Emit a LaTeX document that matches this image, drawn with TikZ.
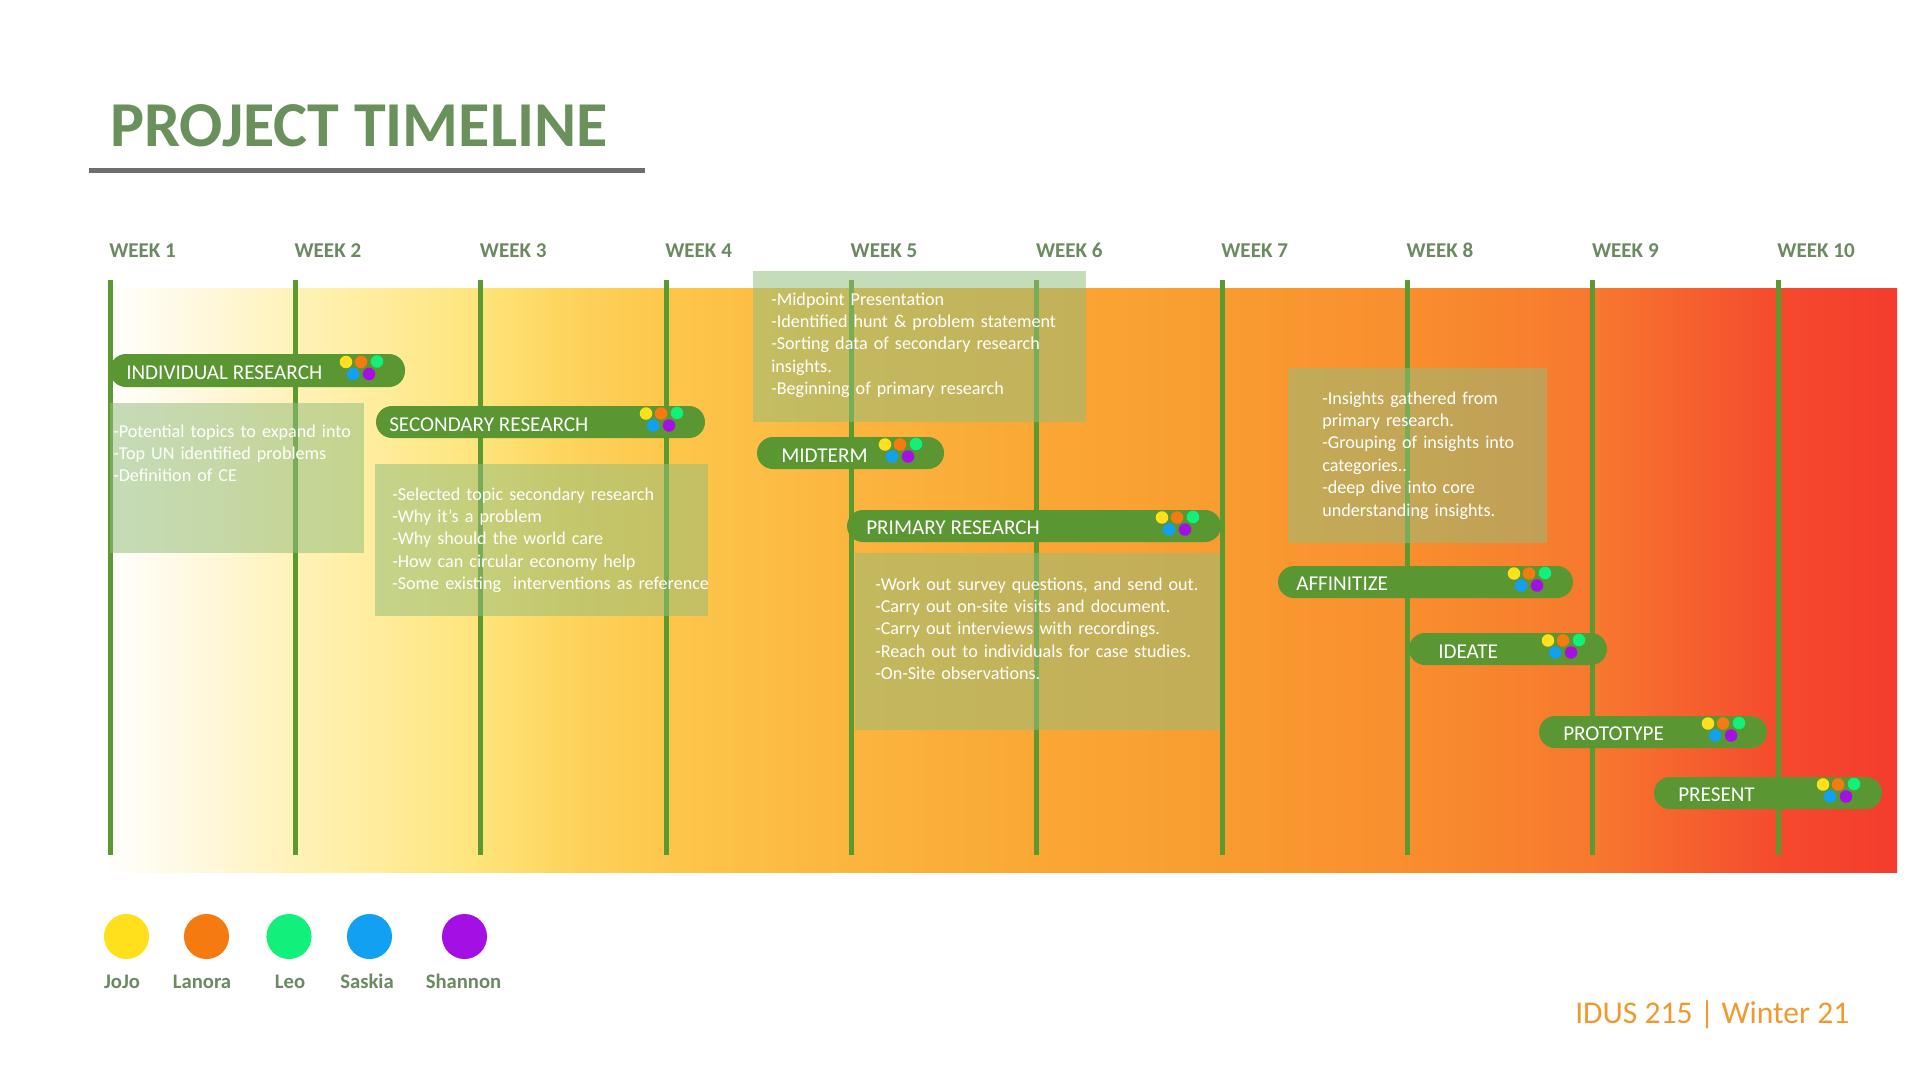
\documentclass[tikz,border=0pt]{standalone}
\usepackage{fontspec}
\setmainfont{Carlito}
\definecolor{pillgreen}{HTML}{5A9632}
\definecolor{linegreen}{HTML}{5B9A30}
\definecolor{boxgreen}{HTML}{93BD7B}
\definecolor{titlegreen}{HTML}{6A905C}
\definecolor{labelgreen}{HTML}{6B8A62}
\definecolor{rulegrey}{HTML}{6E6E6E}
\definecolor{footorange}{HTML}{EE9A2E}
\definecolor{cyel}{HTML}{FFE01A}
\definecolor{corg}{HTML}{F57A10}
\definecolor{cgrn}{HTML}{10F07A}
\definecolor{cblu}{HTML}{12A0F2}
\definecolor{cpur}{HTML}{A40FE4}
\newcommand\teamdots[2]{%
  \fill[cyel] ({#1-59},{#2-8.5}) circle (4.7pt);
  \fill[corg] ({#1-44},{#2-8.5}) circle (4.7pt);
  \fill[cgrn] ({#1-28},{#2-9}) circle (4.7pt);
  \fill[cblu] ({#1-52},{#2+3.5}) circle (4.7pt);
  \fill[cpur] ({#1-36},{#2+3.5}) circle (4.7pt);
}
\begin{document}
\begin{tikzpicture}[x=0.75pt,y=-0.75pt,
  vline/.style={draw=linegreen,line width=3.75pt},
  tbox/.style={fill=boxgreen,fill opacity=0.53},
  pill/.style={fill=pillgreen,rounded corners=12pt},
  pilltext/.style={anchor=base west,inner sep=0,text=white,font=\fontsize{15.85}{18}\selectfont},
  btext/.style={anchor=base west,inner sep=0,text=white,align=left,text width=330pt,font=\fontsize{13.6}{16.8}\selectfont},
  weeklabel/.style={anchor=base west,inner sep=0,text=labelgreen,font=\fontsize{15.8}{18}\selectfont\bfseries},
  leglabel/.style={anchor=base,inner sep=0,text=labelgreen,font=\fontsize{15.5}{18}\selectfont\bfseries}]
\useasboundingbox (0,0) rectangle (1920,1081);
\fill[white] (0,0) rectangle (1920,1081);
% gradient band
\begin{scope}
\clip (100,288) rectangle (1897,872);
\foreach \xa/\ca/\xb/\cb in {100/FFFFFF/200/FFF8DE, 200/FFF8DE/295/FFF2B8, 295/FFF2B8/400/FFEB95, 400/FFEB95/480/FEE47A, 480/FEE47A/560/FDD55E, 560/FDD55E/665/FDC74B, 665/FDC74B/851/FBB53E, 851/FBB53E/1037/FAA735, 1037/FAA735/1222/F99C30, 1222/F99C30/1408/F98E2E, 1408/F98E2E/1594/F7782E, 1594/F7782E/1700/F65E2E, 1700/F65E2E/1778/F54A2E, 1778/F54A2E/1897/F43C2C}{
  \definecolor{ca}{HTML}{\ca}\definecolor{cb}{HTML}{\cb}
  \shade[left color=ca,right color=cb] (\xa,288) rectangle ({\xb+1},872);
}
\end{scope}
% title
\node[anchor=base west,inner sep=0,text=titlegreen,font=\fontsize{48}{58}\selectfont\bfseries] (title) at (110,146) {PROJECT TIMELINE};
\coordinate (ruleL) at (89,170);
\coordinate (ruleR) at (645,170);
\draw[rulegrey,line width=3.75pt] (ruleL) -- (ruleR);
% week lines and labels
\foreach \i/\n in {0/1,1/2,2/3,3/4,4/5,5/6,6/7,7/8,8/9,9/10}{
  \coordinate (top\n) at ({110+185.35*\i},280);
  \coordinate (bot\n) at ({110+185.35*\i},855);
  \draw[vline] (top\n) -- (bot\n);
  \node[weeklabel] (week\n) at ({109+185.35*\i},257) {WEEK \n};
}
% text boxes
\fill[tbox] (110,403) rectangle (364,553);
\fill[tbox] (375,464) rectangle (708,616);
\fill[tbox] (753,271) rectangle (1086,422);
\fill[tbox] (855,553) rectangle (1220,730);
\fill[tbox] (1288,368) rectangle (1547,543);
% pills
\fill[pill] (110,354) rectangle (405,387);
\fill[pill] (376,406) rectangle (705,438);
\fill[pill] (757,437) rectangle (944,469);
\fill[pill] (847,510) rectangle (1221,542);
\fill[pill] (1278,566) rectangle (1573,598);
\fill[pill] (1409,633) rectangle (1607,665);
\fill[pill] (1539,716) rectangle (1767,748);
\fill[pill] (1654,777) rectangle (1882,809);
% pill labels
\node[pilltext] (p1) at (126,379.5) {INDIVIDUAL RESEARCH};
\node[pilltext] (p2) at (389,431) {SECONDARY RESEARCH};
\node[pilltext] (p3) at (781,462) {MIDTERM};
\node[pilltext] (p4) at (866,534) {PRIMARY RESEARCH};
\node[pilltext] (p5) at (1296,590) {AFFINITIZE};
\node[pilltext] (p6) at (1438,658) {IDEATE};
\node[pilltext] (p7) at (1563,740) {PROTOTYPE};
\node[pilltext] (p8) at (1678,801) {PRESENT};
% team dots
\teamdots{405}{370.5}
\teamdots{705}{422}
\teamdots{944}{453}
\teamdots{1221}{526}
\teamdots{1573}{582}
\teamdots{1607}{649}
\teamdots{1767}{732}
\teamdots{1882}{793}
% box texts
\node[btext] (b1) at (113,437) {-Potential topics to expand into\\-Top UN identified problems\\-Definition of CE};
\node[btext] (b2) at (392,500) {-Selected topic secondary research\\-Why it’s a problem\\-Why should the world care\\-How can circular economy help\\-Some existing \ interventions as reference};
\node[btext] (b3) at (771,305) {-Midpoint Presentation\\-Identified hunt \& problem statement\\-Sorting data of secondary research\\insights.\\-Beginning of primary research};
\node[btext] (b4) at (875,590) {-Work out survey questions, and send out.\\-Carry out on-site visits and document.\\-Carry out interviews with recordings.\\-Reach out to individuals for case studies.\\-On-Site observations.};
\node[btext] (b5) at (1322,404) {-Insights gathered from\\primary research.\\-Grouping of insights into\\categories..\\-deep dive into core\\understanding insights.};
% legend
\fill[cyel] (126.5,936.5) circle (16.9pt);
\fill[corg] (206.5,936.5) circle (16.9pt);
\fill[cgrn] (289,936.5) circle (16.9pt);
\fill[cblu] (369.5,936.5) circle (16.9pt);
\fill[cpur] (464.5,936.5) circle (16.9pt);
\node[leglabel] (l1) at (122,988) {JoJo};
\node[leglabel] (l2) at (202,988) {Lanora};
\node[leglabel] (l3) at (290,988) {Leo};
\node[leglabel] (l4) at (367,988) {Saskia};
\node[leglabel] (l5) at (463.5,988) {Shannon};
% footer
\node[anchor=base west,inner sep=0,text=footorange,font=\fontsize{23.7}{28}\selectfont] (foot) at (1575,1023) {IDUS 215 | Winter 21};
\end{tikzpicture}
\end{document}
